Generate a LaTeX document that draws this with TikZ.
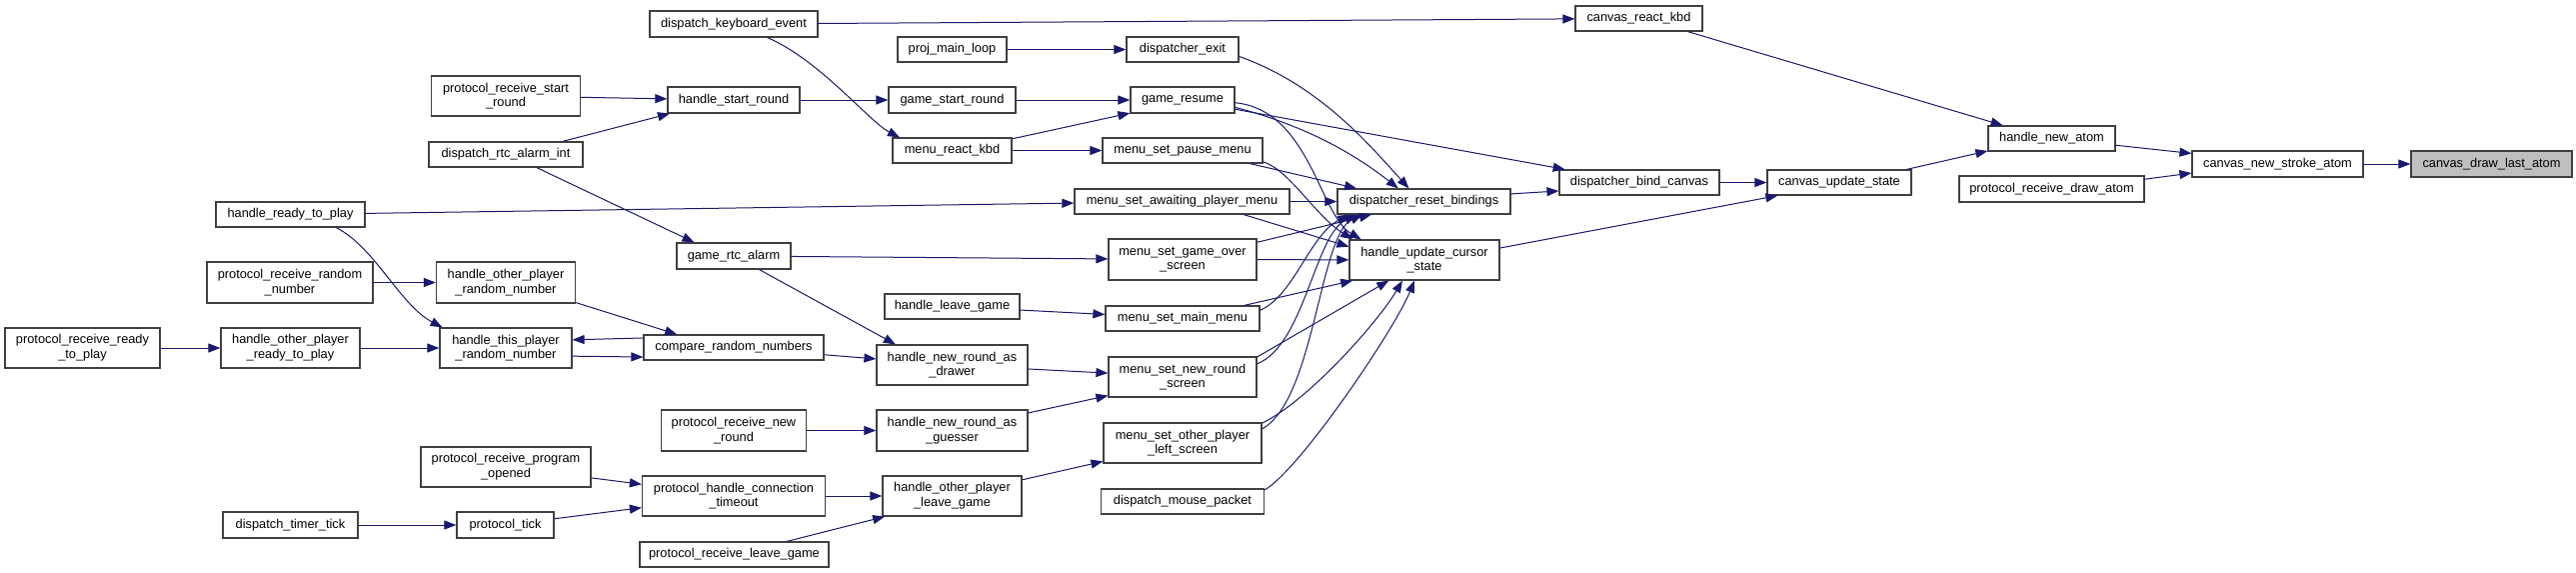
\documentclass[tikz,border=0pt]{standalone}
\usepackage{fontspec}
\setmainfont{Liberation Sans}
\usetikzlibrary{arrows.meta}
\definecolor{edgeblue}{HTML}{191970}
\definecolor{boxline}{HTML}{404040}
\tikzset{
  fn/.style 2 args={draw=boxline, line width=0.6pt, fill=white, inner sep=0pt,
    minimum width={#1*0.5pt}, minimum height={#2*0.5pt},
    font=\fontsize{6.4pt}{7.35pt}\selectfont, align=center, text=black},
  call/.style={draw=edgeblue, line width=0.5pt, -{Triangle[length=6pt,width=4.5pt]}, fill=none},
}
\begin{document}
\begin{tikzpicture}[x=0.5pt,y=-0.5pt]
\fill[white] (0,0) rectangle (2577,573);
\useasboundingbox (0,0) rectangle (2577,573);
% nodes
\node[fn={161}{26}, fill=gray!50] (cdla) at (2492.5,164) {canvas\_draw\_last\_atom};
\node[fn={171}{26}] (cnsa) at (2278.5,164) {canvas\_new\_stroke\_atom};
\node[fn={127}{25}] (hna) at (2052.5,138.5) {handle\_new\_atom};
\node[fn={185}{26}] (prda) at (2052.5,189) {protocol\_receive\_draw\_atom};
\node[fn={127}{25}] (crk) at (1639.5,18.5) {canvas\_react\_kbd};
\node[fn={160}{25}] (dbc) at (1640,182.5) {dispatcher\_bind\_canvas};
\node[fn={144}{25}] (cus) at (1840,182.5) {canvas\_update\_state};
\node[fn={173}{25}] (drb) at (1424.5,201.5) {dispatcher\_reset\_bindings};
\node[fn={150}{40}] (hucs) at (1425,260) {handle\_update\_cursor\\\_state};
\node[fn={168}{26}] (dke) at (734,24) {dispatch\_keyboard\_event};
\node[fn={109}{25}] (pml) at (952.5,49.5) {proj\_main\_loop};
\node[fn={112}{25}] (de) at (1183,49.5) {dispatcher\_exit};
\node[fn={132}{26}] (hsr) at (734,100) {handle\_start\_round};
\node[fn={127}{26}] (gsr) at (952.5,100) {game\_start\_round};
\node[fn={104}{26}] (gr) at (1183,100) {game\_resume};
\node[fn={119}{25}] (mrk) at (952.5,150.5) {menu\_react\_kbd};
\node[fn={160}{25}] (mspm) at (1183,150.5) {menu\_set\_pause\_menu};
\node[fn={215}{25}] (msapm) at (1182.5,201.5) {menu\_set\_awaiting\_player\_menu};
\node[fn={114}{26}] (gra) at (734,256) {game\_rtc\_alarm};
\node[fn={148}{41}] (msgos) at (1183,259.5) {menu\_set\_game\_over\\\_screen};
\node[fn={135}{25}] (hlg) at (952.5,306.5) {handle\_leave\_game};
\node[fn={154}{25}] (msmm) at (1183,318.5) {menu\_set\_main\_menu};
\node[fn={180}{25}] (crn) at (734,347.5) {compare\_random\_numbers};
\node[fn={151}{40}] (hnrad) at (952.5,365) {handle\_new\_round\_as\\\_drawer};
\node[fn={148}{40}] (msnrs) at (1183,377) {menu\_set\_new\_round\\\_screen};
\node[fn={145}{41}] (prnr) at (734,430.5) {protocol\_receive\_new\\\_round};
\node[fn={151}{41}] (hnrag) at (952.5,430.5) {handle\_new\_round\_as\\\_guesser};
\node[fn={158}{40}] (msopls) at (1183,443) {menu\_set\_other\_player\\\_left\_screen};
\node[fn={183}{40}] (phct) at (734,496) {protocol\_handle\_connection\\\_timeout};
\node[fn={139}{40}] (hoplg) at (952.5,496) {handle\_other\_player\\\_leave\_game};
\node[fn={163}{25}] (dmp) at (1183,501.5) {dispatch\_mouse\_packet};
\node[fn={189}{25}] (prlg) at (734.5,554.5) {protocol\_receive\_leave\_game};
\node[fn={149}{40}] (prsr) at (506,96) {protocol\_receive\_start\\\_round};
\node[fn={154}{25}] (drai) at (506,154.5) {dispatch\_rtc\_alarm\_int};
\node[fn={149}{25}] (hrtp) at (290.5,214.5) {handle\_ready\_to\_play};
\node[fn={166}{41}] (prrn) at (290,282.5) {protocol\_receive\_random\\\_number};
\node[fn={139}{41}] (hoprn) at (506,282.5) {handle\_other\_player\\\_random\_number};
\node[fn={155}{40}] (prrtp) at (82.5,348) {protocol\_receive\_ready\\\_to\_play};
\node[fn={139}{40}] (hoprtp) at (290.5,348) {handle\_other\_player\\\_ready\_to\_play};
\node[fn={132}{40}] (htprn) at (506,348) {handle\_this\_player\\\_random\_number};
\node[fn={170}{40}] (prpo) at (506,467) {protocol\_receive\_program\\\_opened};
\node[fn={135}{26}] (dtt) at (290.5,525) {dispatch\_timer\_tick};
\node[fn={97}{26}] (pt) at (505.5,525) {protocol\_tick};
% edges right part
\draw[call] (cnsa) -- (cdla);
\draw[call] (hna.-6.7) -- (cnsa.173.3);
\draw[call] (prda.6.8) -- (cnsa.-174);
\draw[call] (crk.-15.7) -- (hna.165.3);
\draw[call] (cus.11.4) -- (hna.-169.6);
\draw[call] (dbc) -- (cus);
\draw[call] (hucs.9.8) -- (cus.-168.2);
\draw[call] (drb.5.6) -- (dbc.-174.6);
\draw[call] (gr.-10.7) -- (dbc.170.4);
\draw[call] (gr.-8.6) .. controls (1300,124) and (1350,150) .. (drb.153);
\draw[call] (gr.-3.2) .. controls (1310,110) and (1320,215) .. (hucs.162.4);
\draw[call] (de.-7.6) .. controls (1320,85) and (1370,145) .. (drb.139.2);
\draw[call] (mspm.-11) -- (drb.169.8);
\draw[call] (mspm.-8.9) .. controls (1290,170) and (1315,215) .. (hucs.164.5);
\draw[call] (msapm) -- (drb);
\draw[call] (msapm.-12.9) -- (hucs.170.2);
\draw[call] (msgos.13.3) -- (drb.-166.4);
\draw[call] (msgos) -- (hucs);
\draw[call] (msmm.6.3) .. controls (1295,295) and (1310,235) .. (drb.-170.5);
\draw[call] (msmm.12.4) -- (hucs.-164.7);
\draw[call] (msnrs.10.7) .. controls (1305,345) and (1315,235) .. (drb.-169.5);
\draw[call] (msnrs.15.1) -- (hucs.-150.3);
\draw[call] (msopls.10.75) .. controls (1315,400) and (1320,235) .. (drb.-168.3);
\draw[call] (msopls.14.2) .. controls (1310,400) and (1380,320) .. (hucs.-137.7);
\draw[call] (dmp.8.7) .. controls (1300,470) and (1395,330) .. (hucs.-116.6);
% edges left part
\draw[call] (dke) -- (crk);
\draw[call] (dke.-22.75) .. controls (820,60) and (870,122) .. (mrk.166.85);
\draw[call] (pml) -- (de);
\draw[call] (hsr) -- (gsr);
\draw[call] (gsr) -- (gr);
\draw[call] (mrk.11.9) -- (gr.-166);
\draw[call] (mrk) -- (mspm);
\draw[call] (prsr) -- (hsr);
\draw[call] (drai.13) -- (hsr.-168);
\draw[call] (drai.-23.3) -- (gra.161.1);
\draw[call] (hrtp) -- (msapm);
\draw[call] (hrtp.-16.96) .. controls (375,247) and (400,305) .. (htprn.162.4);
\draw[call] (gra) -- (msgos);
\draw[call] (gra.-28.4) -- (hnrad.160.2);
\draw[call] (prrn) -- (hoprn);
\draw[call] (hoprn.-16.4) -- (crn.167);
\draw[call] (crn.174.6) -- (htprn.7.8);
\draw[call] (htprn.-7.8) -- (crn.-174);
\draw[call] (hoprtp) -- (htprn);
\draw[call] (prrtp) -- (hoprtp);
\draw[call] (hlg) -- (msmm);
\draw[call] (crn) -- (hnrad);
\draw[call] (hnrad) -- (msnrs);
\draw[call] (prnr) -- (hnrag);
\draw[call] (hnrag.13) -- (msnrs.-166.3);
\draw[call] (prpo) -- (phct);
\draw[call] (dtt) -- (pt);
\draw[call] (pt) -- (phct);
\draw[call] (phct) -- (hoplg);
\draw[call] (prlg.14.5) -- (hoplg.-163.9);
\draw[call] (hoplg.13.7) -- (msopls.-167.2);
\end{tikzpicture}
\end{document}
